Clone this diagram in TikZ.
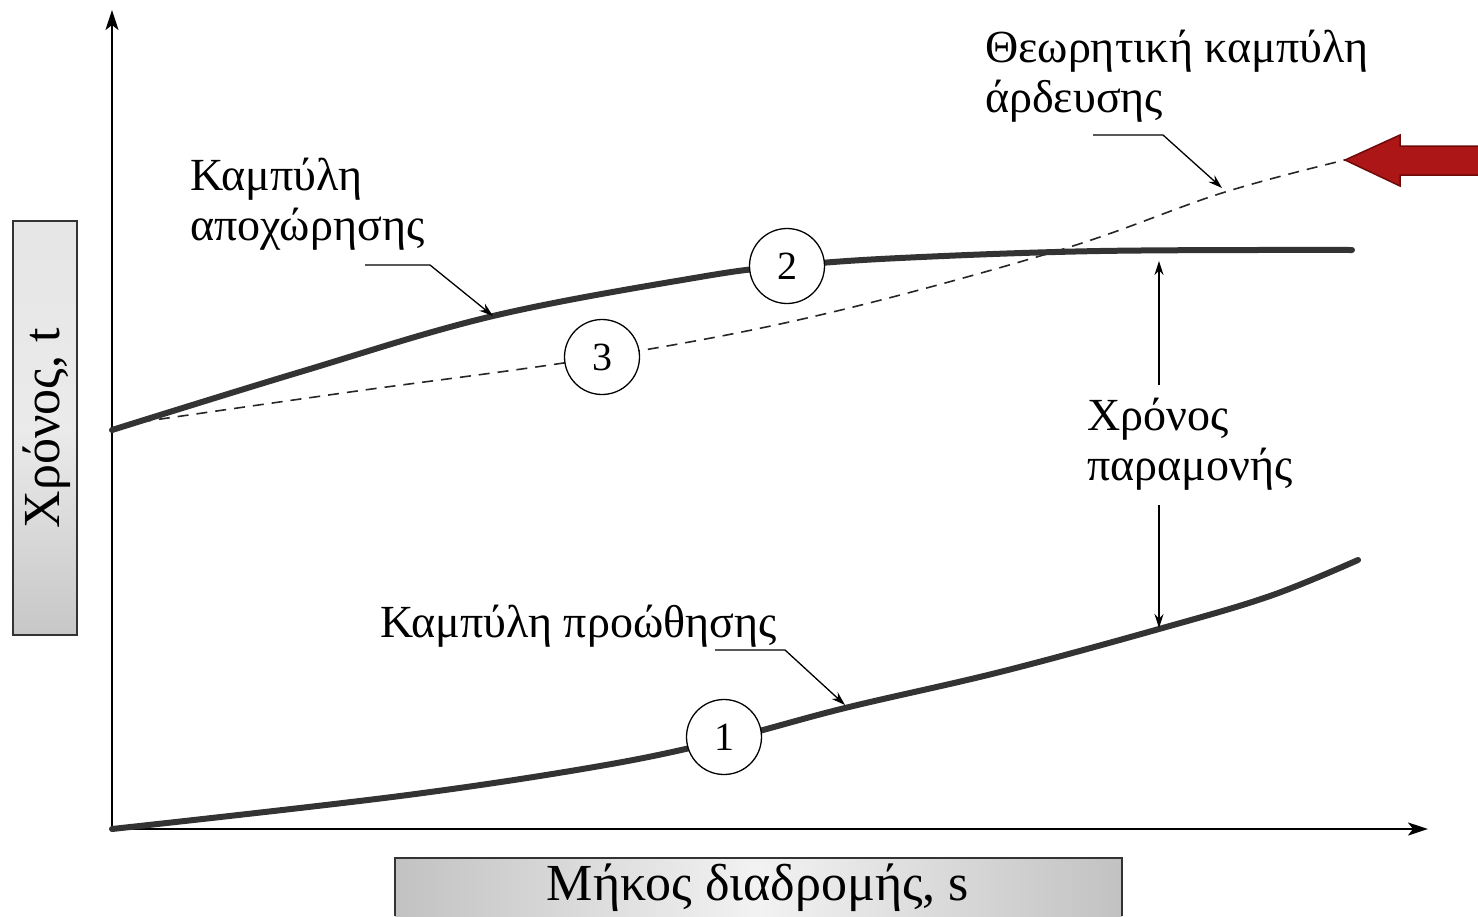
\documentclass[tikz,border=0pt]{standalone}
\usepackage{fontspec}
\setmainfont{Liberation Serif}
\usetikzlibrary{arrows.meta}
\begin{document}
\begin{tikzpicture}[x=1pt,y=-1pt,
  lbl/.style={font=\fontsize{46}{50}\selectfont, inner sep=0pt, align=left},
  axlbl/.style={font=\fontsize{52}{56}\selectfont, inner sep=0pt},
  thick curve/.style={line width=6pt, color=black!80, line cap=round},
  thin dashed/.style={line width=1.6pt, dash pattern=on 11pt off 8pt, color=black!85},
  num/.style={circle, draw=black, line width=1.3pt, fill=white, minimum size=75pt, inner sep=0pt, font=\fontsize{40}{40}\selectfont},
  leader/.style={line width=1.3pt, -{Stealth[length=14pt,width=9pt]}},
  axis/.style={line width=2.2pt, -{Stealth[length=20pt,width=13pt,inset=5pt]}},
  gbox/.style={line width=2pt, draw=black!80}
]
\useasboundingbox (0,0) rectangle (1478,916);

% axes
\coordinate (O) at (112,829);
\coordinate (Ytop) at (112,10);
\coordinate (Xend) at (1428,829);
\draw[axis] (O) -- (Ytop);
\draw[axis] (O) -- (Xend);

% axis label boxes
\shade[top color=black!10, bottom color=black!22, middle color=black!8] (13,221) rectangle (77,635);
\draw[gbox] (13,221) rectangle (77,635);
\node[axlbl, rotate=90] (ylab) at (47,428) {Χρόνος, t};

\shade[left color=black!24, right color=black!24, middle color=black!5] (395,858) rectangle (1122,916);
\draw[gbox] (395,916) -- (395,858) -- (1122,858) -- (1122,916);
\node[axlbl] (xlab) at (758,888) {Μήκος διαδρομής, s};

% curves
\draw[thin dashed] plot[smooth, tension=0.6] coordinates {(140,422) (350,392) (602,357) (820,315) (1060,250) (1222,193) (1345,160)};
\draw[thick curve] plot[smooth, tension=0.6] coordinates {(112,430) (300,372) (493,316) (700,277) (787,266) (900,258) (1100,251) (1352,250)};
\draw[thick curve] plot[smooth, tension=0.6] coordinates {(112,829) (400,796) (600,766) (724,740) (845,708) (1000,672) (1159,629) (1270,596) (1358,560)};

% numbered circles
\node[num] (n1) at (724,737) {1};
\node[num] (n2) at (787,266) {2};
\node[num] (n3) at (602,357) {3};

% labels
\node[lbl, anchor=base west] (apo) at (190,240) {Καμπύλη\\αποχώρησης};
\node[lbl, anchor=base west] (theo) at (985,112) {Θεωρητική καμπύλη\\άρδευσης};
\node[lbl, anchor=base west] (proo) at (380,637) {Καμπύλη προώθησης};
\node[lbl, anchor=base west] (param) at (1087,480) {Χρόνος\\παραμονής};

% leaders
\coordinate (a0) at (365,265); \coordinate (a1) at (430,265); \coordinate (a2) at (493,316);
\draw[leader] (a0) -- (a1) -- (a2);
\coordinate (t0) at (1093,135); \coordinate (t1) at (1163,135); \coordinate (t2) at (1222,188);
\draw[leader] (t0) -- (t1) -- (t2);
\coordinate (p0) at (715,650); \coordinate (p1) at (785,650); \coordinate (p2) at (845,705);
\draw[leader] (p0) -- (p1) -- (p2);

% residence time arrows
\coordinate (r0) at (1159,385); \coordinate (r1) at (1159,261);
\coordinate (r2) at (1159,505); \coordinate (r3) at (1159,628);
\draw[leader] (r0) -- (r1);
\draw[leader] (r2) -- (r3);

% red arrow
\fill[fill={rgb,255:red,172;green,22;blue,22}, draw={rgb,255:red,110;green,10;blue,10}, line width=1.5pt]
  (1345,160) -- (1400,135) -- (1400,146) -- (1480,146) -- (1480,175) -- (1400,175) -- (1400,186) -- cycle;
\end{tikzpicture}
\end{document}
